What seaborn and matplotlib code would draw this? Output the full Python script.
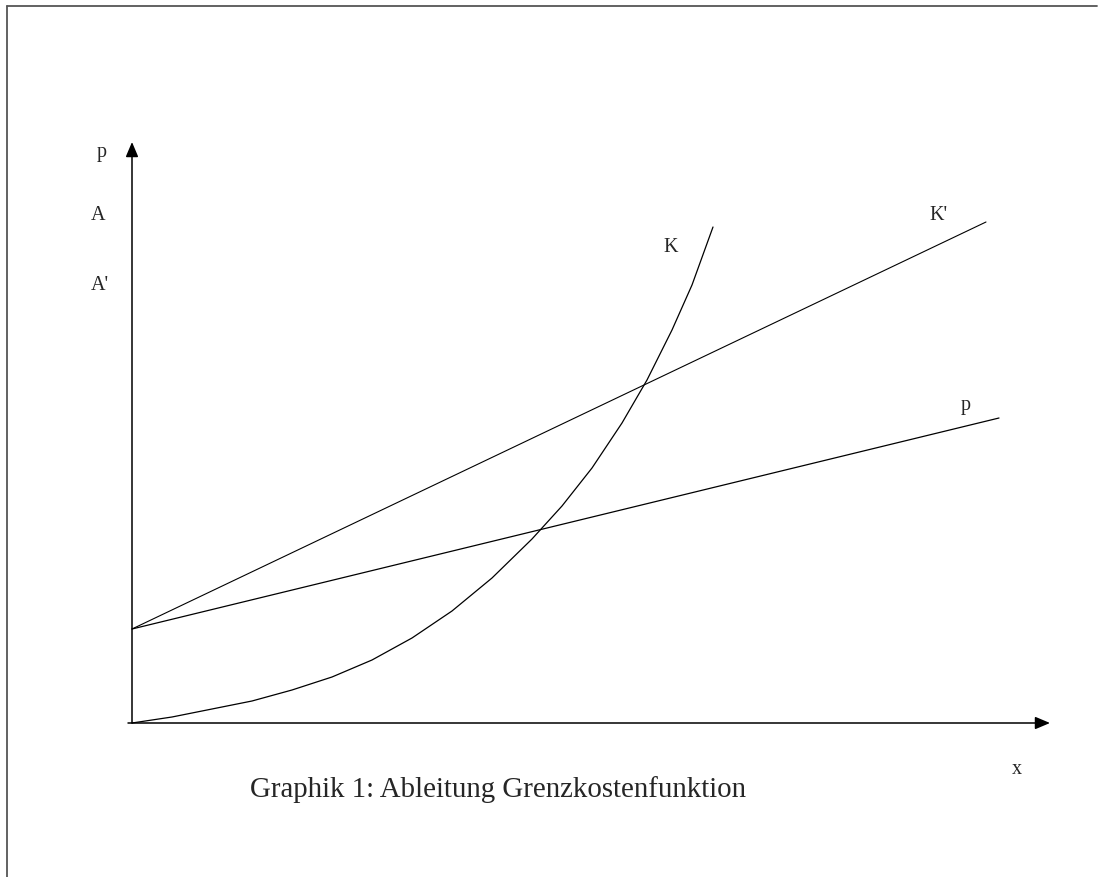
import pandas as pd
import matplotlib.pyplot as plt
import seaborn as sns
from matplotlib.lines import Line2D

sns.set_style("white")
plt.rcParams['font.family'] = ['Liberation Serif', 'DejaVu Serif']

# values (1 unit = 100 px, origin at the axes corner)
curve_x = [0.0, 0.4, 0.8, 1.2, 1.6, 2.0, 2.4, 2.8, 3.2, 3.6, 4.0, 4.3, 4.6, 4.9,
           5.15, 5.4, 5.6, 5.81]
curve_y = [0.0, 0.06, 0.14, 0.22, 0.33, 0.46, 0.63, 0.85, 1.12, 1.45, 1.84, 2.17, 2.55, 3.0,
           3.43, 3.93, 4.38, 4.96]

kprime_x = [0.0, 8.54]
kprime_y = [0.94, 5.01]

price_x = [0.0, 8.67]
price_y = [0.94, 3.05]

caption = "Graphik 1: Ableitung Grenzkostenfunktion"

curve = pd.DataFrame({"x": curve_x, "y": curve_y})
kprime = pd.DataFrame({"x": kprime_x, "y": kprime_y})
price = pd.DataFrame({"x": price_x, "y": price_y})

fig = plt.figure(figsize=(10.99, 8.77), dpi=100)
ax = fig.add_axes([0, 0, 1, 1])
ax.set_xlim(-1.32, 9.67)
ax.set_ylim(-1.54, 7.23)
ax.axis("off")

sns.lineplot(data=curve, x="x", y="y", ax=ax, color="black", linewidth=0.9,
             estimator=None, sort=False)
sns.lineplot(data=kprime, x="x", y="y", ax=ax, color="black", linewidth=0.8, estimator=None)
sns.lineplot(data=price, x="x", y="y", ax=ax, color="black", linewidth=0.9, estimator=None)

# axes with arrow heads
arrow = dict(arrowstyle="-|>,head_length=0.9,head_width=0.38", color="black",
             linewidth=1.1, shrinkA=0, shrinkB=0)
ax.annotate("", xy=(0, 5.81), xytext=(0, 0), arrowprops=arrow)
ax.annotate("", xy=(9.18, 0), xytext=(-0.04, 0), arrowprops=arrow)

fs = 14.5
ax.text(-0.35, 5.66, "p", fontsize=fs, va="baseline")
ax.text(-0.41, 5.03, "A", fontsize=fs, va="baseline")
ax.text(-0.41, 4.33, "A'", fontsize=fs, va="baseline")
ax.text(5.31, 4.71, "K", fontsize=fs, va="baseline")
ax.text(7.97, 5.03, "K'", fontsize=fs, va="baseline")
ax.text(8.29, 3.13, "p", fontsize=fs, va="baseline")
ax.text(8.80, -0.51, "x", fontsize=fs, va="baseline")
ax.text(1.18, -0.74, caption, fontsize=20.8, va="baseline")

# page frame (top and left edges)
fig.add_artist(Line2D([7 / 1099, 1097 / 1099], [1 - 5.5 / 877, 1 - 5.5 / 877],
                      transform=fig.transFigure, color="#555555", linewidth=1.3))
fig.add_artist(Line2D([7 / 1099, 7 / 1099], [0, 1 - 5.5 / 877],
                      transform=fig.transFigure, color="#555555", linewidth=1.3))

fig.savefig("out.png", dpi=100)
